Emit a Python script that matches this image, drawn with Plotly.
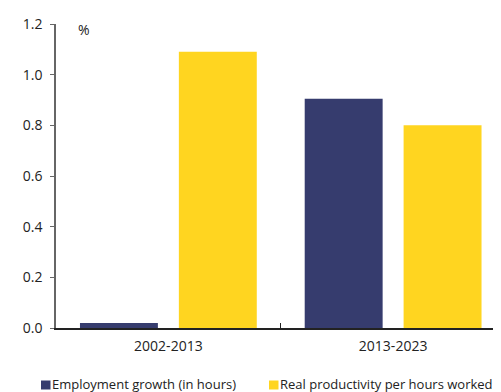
import plotly.graph_objects as go

categories = ["2002-2013", "2013-2023"]
employment = [0.02, 0.905]
productivity = [1.09, 0.80]
series_names = ["Employment growth (in hours)", "Real productivity per hours worked"]
y_ticks = [0.0, 0.2, 0.4, 0.6, 0.8, 1.0, 1.2]

BLUE = "#363C6E"
YELLOW = "#FFD520"
FONT = "Open Sans"
OFF = 8  # page body margin in the browser
W, H = 501 - OFF, 392 - OFF
L, R, T, B = 56 - OFF, 0, 24 - OFF, 64

fig = go.Figure()
fig.add_trace(go.Bar(x=categories, y=employment, name=series_names[0],
                     marker=dict(color=BLUE, line=dict(width=0))))
fig.add_trace(go.Bar(x=categories, y=productivity, name=series_names[1],
                     marker=dict(color=YELLOW, line=dict(width=0))))

pw = W - L - R
ph = H - T - B


def px_x(p):
    # p: screen pixel x
    return (p - OFF - L) / pw


def px_y(p):
    # p: screen pixel y
    return (H - B - (p - OFF)) / ph


shapes = []
annotations = [dict(text="%", xref="paper", yref="paper", x=px_x(76), y=px_y(18),
                    xanchor="left", yanchor="top", showarrow=False,
                    font=dict(size=14))]
legend_items = [(41, BLUE, series_names[0]), (269, YELLOW, series_names[1])]
for x0, col, name in legend_items:
    shapes.append(dict(type="rect", xref="paper", yref="paper",
                       x0=px_x(x0), x1=px_x(x0 + 9.5), y0=px_y(389.5), y1=px_y(380.5),
                       fillcolor=col, line=dict(width=0)))
    annotations.append(dict(text=name, xref="paper", yref="paper",
                            x=px_x(x0 + 10), y=px_y(384), xanchor="left", yanchor="middle",
                            showarrow=False, font=dict(size=13), yshift=0,
                            borderpad=0))

fig.update_layout(
    width=W, height=H,
    margin=dict(l=L, r=R, t=T, b=B),
    plot_bgcolor="white", paper_bgcolor="white",
    barmode="group", bargap=0.12, bargroupgap=0.212,
    font=dict(family=FONT, size=14, color="#222222"),
    showlegend=False,
    xaxis=dict(range=[-0.5, 1.48], showline=True, linecolor="#222222", linewidth=1.5,
               ticks="inside", tickson="boundaries", ticklen=5, tickcolor="#222222",
               showgrid=False, tickfont=dict(size=14), automargin=False,
               ticklabelstandoff=4),
    yaxis=dict(range=[0, 1.2], tickvals=y_ticks, tickformat=".1f", showline=True,
               linecolor="#666666", linewidth=1.5, ticks="outside", ticklen=4,
               tickcolor="#666666", showgrid=False, zeroline=False,
               tickfont=dict(size=14), ticklabelstandoff=5, automargin=False),
    shapes=shapes,
    annotations=annotations,
)

fig.write_html("out.html")
